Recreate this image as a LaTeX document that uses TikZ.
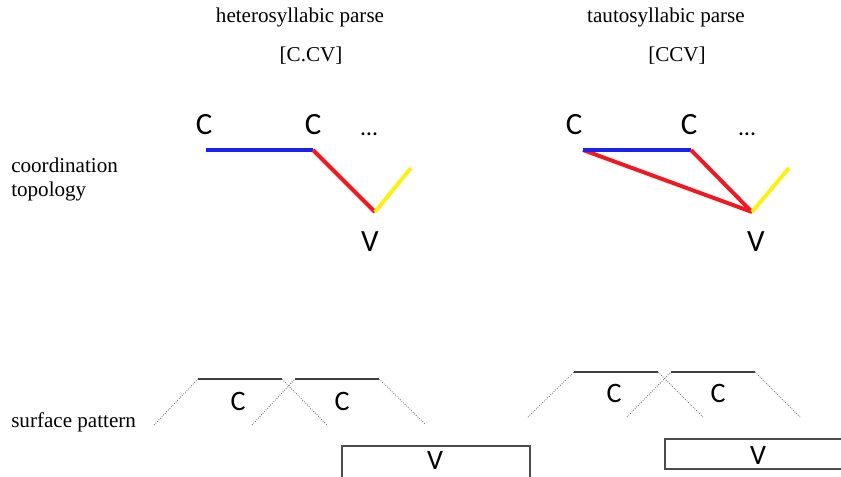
\documentclass[tikz,border=0pt]{standalone}
\usepackage{fontspec}
\setmainfont{Liberation Serif}
\newfontfamily\segfont{Carlito}
\usepackage{xcolor}
\usetikzlibrary{positioning}
\tikzset{>=latex}
\definecolor{gblue}{RGB}{25,35,235}
\definecolor{gred}{RGB}{240,25,35}
\definecolor{gyellow}{RGB}{255,240,20}
\tikzset{
  caption/.style={font=\fontsize{15}{17}\selectfont, inner sep=0pt},
  seg/.style={font=\segfont\fontsize{22}{24}\selectfont, inner sep=0pt, anchor=base},
  sseg/.style={font=\segfont\fontsize{20}{22}\selectfont, inner sep=0pt, anchor=base},
  gest/.style={line width=2.8pt},
  ramp/.style={black!55, densely dotted, line width=0.6pt},
  plateau/.style={black!75, line width=0.9pt},
  vbox/.style={draw=black!70, line width=0.9pt}
}

\begin{document}
\begin{tikzpicture}[x=0.025cm, y=-0.025cm]
    \useasboundingbox (0,0) rectangle (841,477);
    \clip (0,0) rectangle (841,477);

    % Column headings
    \node[caption, anchor=base] (hetero) at (300,23) {heterosyllabic parse};
    \node[caption, anchor=base] (heteroform) at (311,62) {[C.CV]};
    \node[caption, anchor=base] (tauto) at (666,23) {tautosyllabic parse};
    \node[caption, anchor=base] (tautoform) at (677,62) {[CCV]};

    % Row labels
    \node[caption, anchor=base west] (coord) at (11,173) {coordination};
    \node[caption, anchor=base west] (topo) at (11,197) {topology};
    \node[caption, anchor=base west] (surf) at (11,428) {surface pattern};

    % Coordination topology, heterosyllabic
    \node[seg] (hc1) at (204,135) {C};
    \node[seg] (hc2) at (313,135) {C};
    \node[seg, font=\segfont\fontsize{17}{19}\selectfont] (hdots) at (369,136) {…};
    \node[seg] (hv) at (370,252) {V};
    \coordinate (ha) at (206,150);
    \coordinate (hb) at (313,150);
    \coordinate (hv0) at (375,212);
    \coordinate (hn) at (411,168);
    \draw[gest, gblue] (ha) -- (hb);
    \draw[gest, gred] (hb) -- (hv0);
    \draw[gest, gyellow] (hv0) -- (hn);

    % Coordination topology, tautosyllabic
    \node[seg] (tc1) at (574,135) {C};
    \node[seg] (tc2) at (689,135) {C};
    \node[seg, font=\segfont\fontsize{17}{19}\selectfont] (tdots) at (747,136) {…};
    \node[seg] (tv) at (756,252) {V};
    \coordinate (ta) at (583,150);
    \coordinate (tb) at (691,150);
    \coordinate (tv0) at (752,212);
    \coordinate (tn) at (789,168);
    \draw[gest, gred] (ta) -- (tv0);
    \draw[gest, gblue] (ta) -- (tb);
    \draw[gest, gred] (tb) -- (tv0);
    \draw[gest, gyellow] (tv0) -- (tn);

    % Surface pattern, heterosyllabic
    \draw[ramp] (154,425) -- (198,379);
    \draw[plateau] (198,379) -- (282,379);
    \draw[ramp] (282,379) -- (327,425);
    \draw[ramp] (252,425) -- (295,379);
    \draw[plateau] (295,379) -- (379,379);
    \draw[ramp] (379,379) -- (425,424);
    \node[sseg] (hsc1) at (238,411) {C};
    \node[sseg] (hsc2) at (342,411) {C};
    \draw[vbox] (342,446) rectangle (530,482);
    \node[sseg] (hsv) at (435,470) {V};

    % Surface pattern, tautosyllabic
    \draw[ramp] (528,417) -- (574,372);
    \draw[plateau] (574,372) -- (658,372);
    \draw[ramp] (658,372) -- (703,417);
    \draw[ramp] (627,417) -- (671,372);
    \draw[plateau] (671,372) -- (755,372);
    \draw[ramp] (755,372) -- (800,417);
    \node[sseg] (tsc1) at (614,403) {C};
    \node[sseg] (tsc2) at (718,403) {C};
    \draw[vbox] (665,439) rectangle (850,469);
    \node[sseg] (tsv) at (758,465) {V};
\end{tikzpicture}
\end{document}
